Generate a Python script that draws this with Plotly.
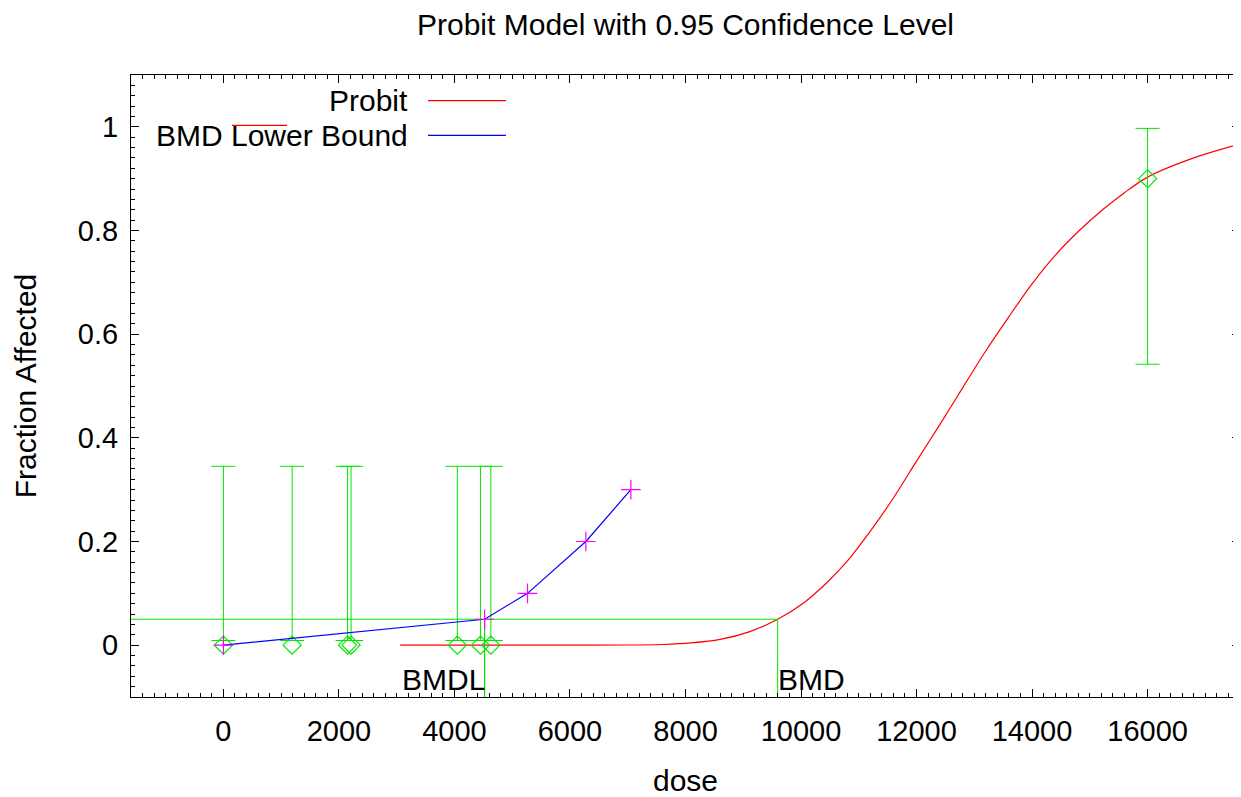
import plotly.graph_objects as go

# ---- data ----
dose = [0, 1190, 2150, 2210, 4050, 4450, 4630, 16000]
frac_affected = [0, 0, 0, 0, 0, 0, 0, 0.9]
ci_lower = [0.009, 0.009, 0.009, 0.009, 0.009, 0.009, 0.009, 0.542]
ci_upper = [0.345, 0.345, 0.345, 0.345, 0.345, 0.345, 0.345, 0.997]

probit_dose = [3060, 6000, 7000, 7600, 8100, 8600, 9100, 9595, 10050, 10450, 10800,
               11200, 11600, 12000, 12400, 12800, 13200, 13600, 14000, 14400, 14800,
               15200, 15600, 16000, 16800, 17600]
probit_frac = [0.0, 0.0, 0.0003, 0.0013, 0.0043, 0.011, 0.0256, 0.05, 0.082, 0.121, 0.162,
               0.22, 0.284, 0.355, 0.425, 0.497, 0.568, 0.634, 0.697, 0.752, 0.798,
               0.838, 0.873, 0.903, 0.94, 0.967]

bmdl_curve_dose = [0, 4522, 5265, 6275, 7054]
bmdl_curve_frac = [0, 0.05, 0.1, 0.2, 0.3]

BMR = 0.05
BMD = 9595
BMDL = 4522

x_range = [-1600, 17600]
y_range = [-0.1, 1.1]
x_ticks = [0, 2000, 4000, 6000, 8000, 10000, 12000, 14000, 16000]
x_tick_labels = ["0", "2000", "4000", "6000", "8000", "10000", "12000", "14000", "16000"]
y_ticks = [0, 0.2, 0.4, 0.6, 0.8, 1]
y_tick_labels = ["0", "0.2", "0.4", "0.6", "0.8", "1"]

GREEN = "#00e600"
RED = "#ff0000"
BLUE = "#0000ff"
MAGENTA = "#ff00ff"
FONT = "Liberation Sans, Arial, sans-serif"

# the page body has an 8px margin; figure is sized so the photo matches
OFF = 8
W, H = 1241 - OFF, 797 - OFF
# plot area in screen pixels
L, R, T, B = 131, 1240, 75, 697


def px(x):
    return (x - L) / (R - L)


def py(y):
    return (B - y) / (B - T)


fig = go.Figure()

# probit model curve
fig.add_trace(go.Scatter(x=probit_dose, y=probit_frac, mode="lines",
                         line=dict(color=RED, width=1.2, shape="spline", smoothing=0.8),
                         hoverinfo="skip"))

# error bars (drawn from CI arrays via invisible midpoint markers)
mid = [(lo + hi) / 2 for lo, hi in zip(ci_lower, ci_upper)]
half = [(hi - lo) / 2 for lo, hi in zip(ci_lower, ci_upper)]
fig.add_trace(go.Scatter(x=dose, y=mid, mode="markers",
                         marker=dict(size=1, opacity=0),
                         error_y=dict(type="data", array=half, symmetric=True,
                                      color=GREEN, thickness=1, width=12),
                         hoverinfo="skip"))

# observed data points
fig.add_trace(go.Scatter(x=dose, y=frac_affected, mode="markers",
                         marker=dict(symbol="diamond-open", size=14,
                                     line=dict(color=GREEN, width=1.2), color=GREEN)))

# BMD / BMDL guide lines
fig.add_trace(go.Scatter(x=[x_range[0], BMD, BMD], y=[BMR, BMR, y_range[0]], mode="lines",
                         line=dict(color=GREEN, width=1), hoverinfo="skip"))
fig.add_trace(go.Scatter(x=[BMDL, BMDL], y=[BMR, y_range[0]], mode="lines",
                         line=dict(color=GREEN, width=1.2), hoverinfo="skip"))

# BMD lower bound curve
fig.add_trace(go.Scatter(x=bmdl_curve_dose, y=bmdl_curve_frac, mode="lines",
                         line=dict(color=BLUE, width=1.2), hoverinfo="skip"))
fig.add_trace(go.Scatter(x=bmdl_curve_dose, y=bmdl_curve_frac, mode="markers",
                         marker=dict(symbol="cross-thin", size=14,
                                     line=dict(color=MAGENTA, width=1.2)),
                         hoverinfo="skip"))

annotations = [
    dict(x=BMDL, y=-0.066, xref="x", yref="y", text="BMDL", showarrow=False,
         xanchor="right", yanchor="middle", xshift=2,
         font=dict(family=FONT, size=30, color="black")),
    dict(x=BMD, y=-0.066, xref="x", yref="y", text="BMD", showarrow=False,
         xanchor="left", yanchor="middle", xshift=-2,
         font=dict(family=FONT, size=30, color="black")),
    # legend text
    dict(x=px(410), y=py(100.5), xref="paper", yref="paper", text="Probit",
         showarrow=False, xanchor="right", yanchor="middle",
         font=dict(family=FONT, size=30, color="black")),
    dict(x=px(410), y=py(135.5), xref="paper", yref="paper", text="BMD Lower Bound",
         showarrow=False, xanchor="right", yanchor="middle",
         font=dict(family=FONT, size=30, color="black")),
]

shapes = [
    dict(type="line", xref="paper", yref="paper", x0=px(428), x1=px(506),
         y0=py(100.7), y1=py(100.7), line=dict(color=RED, width=1.2)),
    dict(type="line", xref="paper", yref="paper", x0=px(428), x1=px(506),
         y0=py(135.3), y1=py(135.3), line=dict(color=BLUE, width=1.2)),
    dict(type="line", xref="paper", yref="paper", x0=px(232), x1=px(287),
         y0=py(125.3), y1=py(125.3), line=dict(color=RED, width=1.2)),
]

axis_common = dict(showline=True, linecolor="black", linewidth=1, mirror="allticks",
                   ticks="inside", tickcolor="black", tickwidth=1, showgrid=False,
                   zeroline=False, tickfont=dict(family=FONT, size=29, color="black"))

fig.update_layout(
    width=W, height=H,
    margin=dict(l=L - OFF, r=W - (R - OFF), t=T - OFF, b=H - (B - OFF), autoexpand=False),
    paper_bgcolor="white", plot_bgcolor="white",
    showlegend=False,
    title=dict(text="Probit Model with 0.95 Confidence Level",
               x=((L + R) / 2 - OFF) / W,
               xanchor="center", y=1 - (24 - OFF) / H, yanchor="middle", yref="container",
               font=dict(family=FONT, size=30, color="black")),
    xaxis=dict(range=x_range, tickvals=x_ticks, ticktext=x_tick_labels, ticklen=8,
               ticklabelstandoff=8,
               minor=dict(dtick=200, ticks="inside", ticklen=4, tickcolor="black"),
               title=dict(text="dose", standoff=33,
                          font=dict(family=FONT, size=30, color="black")),
               **axis_common),
    yaxis=dict(range=y_range, tickvals=y_ticks, ticktext=y_tick_labels, ticklen=8,
               ticklabelstandoff=6,
               minor=dict(dtick=0.02, ticks="inside", ticklen=4, tickcolor="black"),
               title=dict(text="Fraction Affected", standoff=32,
                          font=dict(family=FONT, size=30, color="black")),
               **axis_common),
    annotations=annotations,
    shapes=shapes,
)

fig.write_html("out.html")
